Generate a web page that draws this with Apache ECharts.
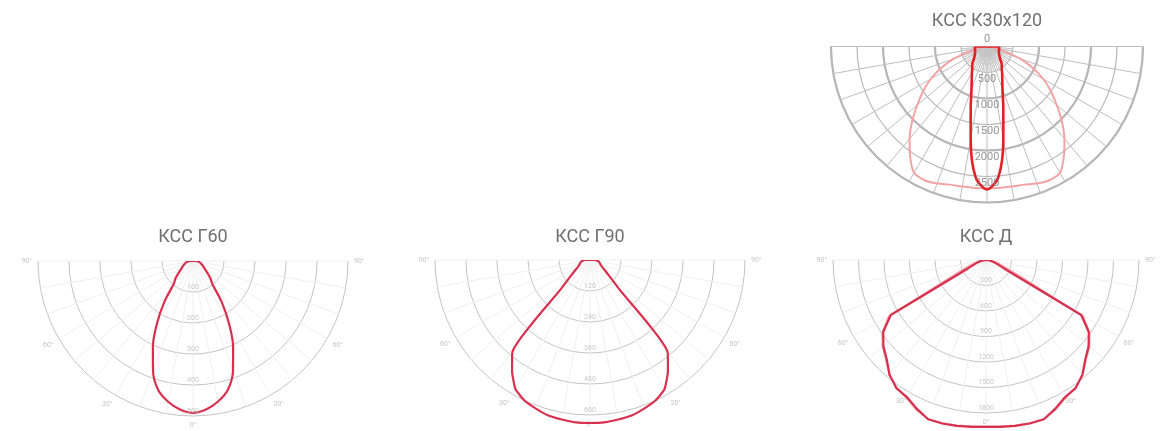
<!DOCTYPE html>
<html><head><meta charset="utf-8">
<script src="https://cdn.jsdelivr.net/npm/echarts@6/dist/echarts.min.js"></script>
<style>html,body{margin:0;padding:0;background:#fff}#c{width:1168px;height:431px}</style>
</head><body><div id="c"></div>
<script>
// gamma angles (degrees from nadir), one half; curves are symmetric
const angles = [0,5,10,15,20,25,30,35,40,45,50,55,60,65,70,75,80,85,90];

// КСС К30х120
const k30Narrow = [2750,2520,1810,1210,870,695,580,495,440,365,317,288,269,250,244,240,236,234,231];
const k30Wide   = [2727,2730,2735,2750,2805,2838,2805,2577,2317,2035,1750,1500,1250,960,660,320,150,75,0];
// КСС Г60
const g60 = [490,481,461,432,377,306,232,161,97,80,61,48,40,34,29,25,21,16,10];
// КСС Г90
const g90 = [631,631,627,623,612,600,577,526,468,161,99,71,55,46,42,38,34,28,20];
// КСС Д
const dMain = [1964,1970,1982,1991,1993,1929,1862,1840,1764,1652,1576,1476,1294,235,141,94,59,35,0];
const dAlt  = [1955,1962,1975,1985,1990,1945,1875,1830,1770,1665,1590,1490,1320,420,230,140,80,40,10];

// ring tick labels
const k30Ticks = [0,500,1000,1500,2000,2500];
const g60Ticks = [100,200,300,400,500];
const g90Ticks = [120,240,360,480,600];
const dTicks   = [300,600,900,1200,1500,1800];
const angleTickLabels = [0,30,60,90];

const titles = ['КСС К30х120','КСС Г60','КСС Г90','КСС Д'];

function loop(vals){
  const d = [];
  for (let i = angles.length-1; i >= 1; i--) d.push([vals[i], -angles[i]]);
  for (let i = 0; i < angles.length; i++) d.push([vals[i], angles[i]]);
  d.push(d[0]);
  return d;
}

const FONT = 'Roboto, "Noto Sans", sans-serif';

function angleAxis(idx, showLabels, spokeColor, interval){
  return {
    polarIndex: idx, type:'value', min:-90, max:90, interval:interval||10,
    startAngle:0, endAngle:-180, clockwise:true,
    axisLine:{show:false}, axisTick:{show:false},
    axisLabel:{show:showLabels, margin:6, color:'#c4c4c4', fontSize:7, fontFamily:FONT,
      formatter: v => angleTickLabels.indexOf(Math.abs(v)) >= 0 ? Math.abs(v)+'°' : ''},
    splitLine:{show: !!spokeColor, lineStyle:{color:spokeColor||'#ccc', width:1}}
  };
}
function radiusAxis(idx, max, interval, color, width){
  return {
    polarIndex: idx, type:'value', min:0, max:max, interval:interval,
    axisLine:{show:false}, axisTick:{show:false}, axisLabel:{show:false},
    splitLine:{show: !!color, lineStyle:{color:color||'#ccc', width:width||1}}
  };
}
function tickSeries(idx, ticks, fontSize, color, pos, zeroUp){
  return {
    type:'scatter', coordinateSystem:'polar', polarIndex: idx, symbolSize:1,
    itemStyle:{color:'transparent'}, silent:true, z:5,
    data: ticks.map(t => ({value:[t,0], label:{position: (zeroUp && t===0) ? 'top' : pos}})),
    label:{show:true, formatter: p => String(p.value[0]), fontSize:fontSize, color:color, fontFamily:FONT, distance:1}
  };
}
function curve(idx, vals, color, width, smooth, z){
  return {
    type:'line', coordinateSystem:'polar', polarIndex: idx, data: loop(vals),
    symbol:'none', smooth:smooth, clip:false, silent:true, z:z||3,
    lineStyle:{color:color, width:width}
  };
}

const R = 155, EXT = 1.25;
const option = {
  animation:false,
  title: [
    {text:titles[0], left:987, top:12},
    {text:titles[1], left:193, top:228},
    {text:titles[2], left:590, top:228},
    {text:titles[3], left:986, top:228}
  ].map(t => Object.assign(t, {textAlign:'center', padding:0,
      textStyle:{fontSize:18, fontWeight:'normal', color:'#707070', fontFamily:FONT}})),
  polar: [
    {center:[987,46.5], radius:156},      // 0 top grid (thick)
    {center:[987,46.5], radius:156},      // 1 top grid (thin) + data
    {center:[193,261], radius:R},         // 2 Г60 grid + data
    {center:[590,260], radius:R},         // 3 Г90 grid
    {center:[986,260], radius:153},       // 4 Д grid
    {center:[590,260], radius:R*EXT},     // 5 Г90 data (extended range)
    {center:[986,260], radius:153*EXT},   // 6 Д data (extended range)
    {center:[987,46.5], radius:26},       // 7 top inner dense spokes
    {center:[987,46.5], radius:10}        // 8 top inner small ring
  ],
  angleAxis: [
    angleAxis(0,false,'#bdbdbd'),
    angleAxis(1,false,null),
    angleAxis(2,true,'#efefef'),
    angleAxis(3,true,'#efefef'),
    angleAxis(4,true,'#efefef'),
    angleAxis(5,false,null),
    angleAxis(6,false,null),
    angleAxis(7,false,'#c4c4c4',5),
    angleAxis(8,false,null)
  ],
  radiusAxis: [
    radiusAxis(0,3000,1000,'#b3b3b3',2.2),
    radiusAxis(1,3000,500,'#b8b8b8',1.2),
    radiusAxis(2,500,100,'#c3c3c3',1),
    radiusAxis(3,600,120,'#c3c3c3',1),
    radiusAxis(4,1800,300,'#c3c3c3',1),
    radiusAxis(5,600*EXT,120,null),
    radiusAxis(6,1800*EXT,300,null),
    radiusAxis(7,500,500,null),
    radiusAxis(8,190,190,'#bdbdbd',1)
  ],
  series: [
    curve(1, k30Wide, '#f4a3a5', 2, 0.3, 3),
    curve(1, k30Narrow, '#e41f26', 2.6, 0.3, 4),
    tickSeries(1, k30Ticks, 11, '#7a7a7a', 'bottom', true),
    curve(2, g60, '#d8304f', 2.2, 0.35, 4),
    tickSeries(2, g60Ticks, 7, '#b9b9b9', 'top', false),
    curve(5, g90, '#d8304f', 2.2, 0.15, 4),
    tickSeries(3, g90Ticks, 7, '#b9b9b9', 'top', false),
    curve(6, dAlt, '#f3a2aa', 1.6, false, 3),
    curve(6, dMain, '#d8304f', 2.2, false, 4),
    tickSeries(4, dTicks, 7, '#b9b9b9', 'top', false)
  ]
};
const chart = echarts.init(document.getElementById('c'), null, {renderer:'canvas'});
chart.setOption(option);
</script></body></html>
